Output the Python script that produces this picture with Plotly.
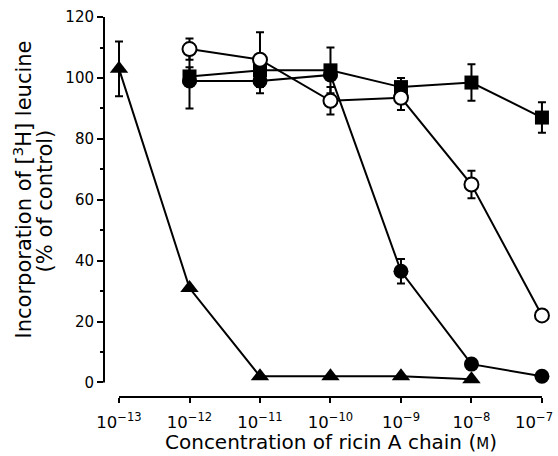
import numpy as np
import plotly.graph_objects as go

# ---- data ----
conc_exp = [-13, -12, -11, -10, -9, -8, -7]
tick_text = ["10<sup>\u221213</sup>", "10<sup>\u221212</sup>", "10<sup>\u221211</sup>",
             "10<sup>\u221210</sup>", "10<sup>\u22129</sup>", "10<sup>\u22128</sup>",
             "10<sup>\u22127</sup>\u00a0\u00a0\u00a0"]

tri_conc = [1e-13, 1e-12, 1e-11, 1e-10, 1e-9, 1e-8]
tri_val = [103, 31, 2, 2, 2, 1]
tri_err = [9, 0, 0, 0, 0, 0]

open_conc = [1e-12, 1e-11, 1e-10, 1e-9, 1e-8, 1e-7]
open_val = [109.5, 106, 92.5, 93.5, 65, 22]
open_err = [3.5, 9, 4.5, 4, 4.5, 0]

fc_conc = [1e-12, 1e-11, 1e-10, 1e-9, 1e-8, 1e-7]
fc_val = [99, 99, 101, 36.5, 6, 2]
fc_err = [9, 4, 0, 4, 0, 0]

sq_conc = [1e-12, 1e-11, 1e-10, 1e-9, 1e-8, 1e-7]
sq_val = [100.5, 102.5, 102.5, 97, 98.5, 87]
sq_err = [3, 3, 7.5, 3, 6, 5]

y_ticks = [0, 20, 40, 60, 80, 100, 120]

FONT = "DejaVu Sans, sans-serif"


def err(arr):
    return dict(type="data", array=arr, visible=True, thickness=2, width=4, color="black")


fig = go.Figure()

fig.add_trace(go.Scatter(
    x=np.log10(tri_conc), y=tri_val, mode="lines+markers",
    line=dict(color="black", width=2),
    marker=dict(symbol="triangle-up", size=16, color="black"),
    error_y=err(tri_err), showlegend=False, cliponaxis=False))

fig.add_trace(go.Scatter(
    x=np.log10(fc_conc), y=fc_val, mode="lines+markers",
    line=dict(color="black", width=2),
    marker=dict(symbol="circle", size=15, color="black"),
    error_y=err(fc_err), showlegend=False, cliponaxis=False))

fig.add_trace(go.Scatter(
    x=np.log10(sq_conc), y=sq_val, mode="lines+markers",
    line=dict(color="black", width=2),
    marker=dict(symbol="square", size=14, color="black"),
    error_y=err(sq_err), showlegend=False, cliponaxis=False))

fig.add_trace(go.Scatter(
    x=np.log10(open_conc), y=open_val, mode="lines+markers",
    line=dict(color="black", width=2),
    marker=dict(symbol="circle", size=14, color="white", line=dict(color="black", width=2)),
    error_y=err(open_err), showlegend=False, cliponaxis=False))

# axis lines spanning only the data extents
fig.add_shape(type="line", xref="paper", yref="y", x0=0, x1=0, y0=y_ticks[0], y1=y_ticks[-1],
              line=dict(color="black", width=2))
fig.add_shape(type="line", xref="x", yref="paper", x0=conc_exp[0], x1=conc_exp[-1], y0=0, y1=0,
              line=dict(color="black", width=2))

fig.add_annotation(
    text="Incorporation of [<sup>3</sup>H] leucine",
    textangle=-90, xref="paper", yref="paper", x=-0.1831, y=0.5365,
    xanchor="center", yanchor="middle", showarrow=False,
    font=dict(family=FONT, size=21, color="black"))
fig.add_annotation(
    text="(% of control)",
    textangle=-90, xref="paper", yref="paper", x=-0.1337, y=0.508,
    xanchor="center", yanchor="middle", showarrow=False,
    font=dict(family=FONT, size=21, color="black"))

fig.add_annotation(
    text="Concentration of ricin A chain (<span style=\"font-size:15px\">M</span>)",
    xref="paper", yref="paper", x=0.509, y=-0.1157,
    xanchor="center", yanchor="middle", showarrow=False,
    font=dict(family=FONT, size=20, color="black"))

fig.update_layout(
    width=558, height=456,
    margin=dict(l=104, r=9, t=11, b=59),
    paper_bgcolor="white", plot_bgcolor="white",
    font=dict(family=FONT, color="black"),
    xaxis=dict(range=[-13.213, -6.9], tickvals=conc_exp, ticktext=tick_text,
               ticks="outside", ticklen=5, tickwidth=2, tickcolor="black",
               showgrid=False, zeroline=False, showline=False, automargin=False,
               ticklabeloverflow="allow", ticklabelstandoff=5,
               tickfont=dict(family=FONT, size=16.5, color="black")),
    yaxis=dict(range=[-4.8, 122], tickvals=y_ticks,
               ticks="outside", ticklen=6, tickwidth=2, tickcolor="black",
               minor=dict(tickvals=[10, 30, 50, 70, 90, 110], ticks="outside", ticklen=3,
                          tickwidth=2, tickcolor="black", showgrid=False),
               showgrid=False, zeroline=False, showline=False, automargin=False,
               ticklabeloverflow="allow",
               tickfont=dict(family=FONT, size=15, color="black")),
)

fig.write_html("out.html", config={"displayModeBar": False},
               post_script="document.body.style.margin='0px';")
